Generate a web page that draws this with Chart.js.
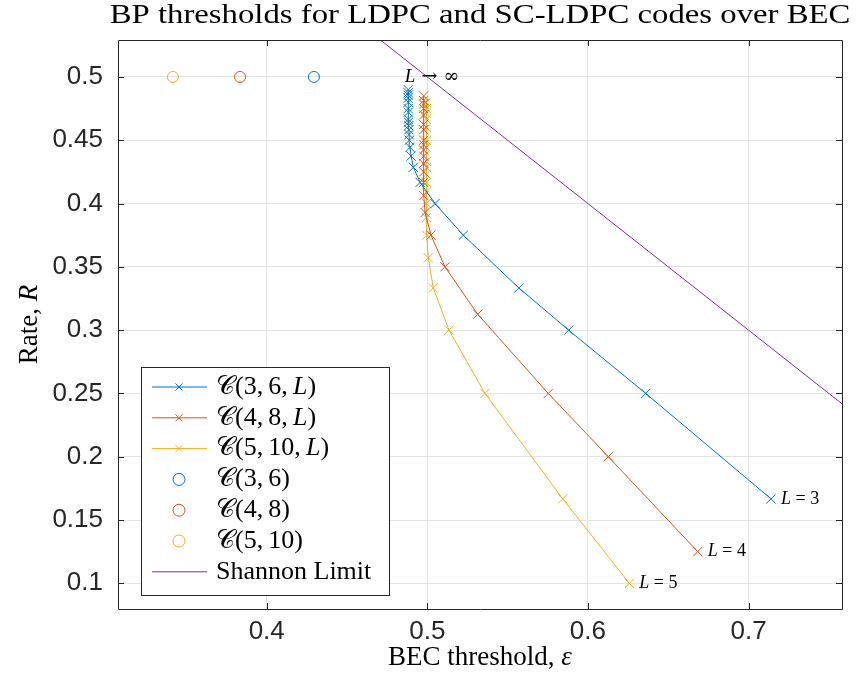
<!DOCTYPE html>
<html>
<head>
<meta charset="utf-8">
<script src="https://cdn.jsdelivr.net/npm/chart.js@4.4.1/dist/chart.umd.min.js"></script>
<style>
    html, body { margin: 0; padding: 0; background: #fff; }
    #wrap { width: 857px; height: 688px; }
</style>
</head>
<body>
<div id="wrap"><canvas id="bpChart" width="857" height="688"></canvas></div>
<script>
// SC-LDPC (l, r, L) BP thresholds, L growing left to right in each array
const eps36 = [0.714, 0.636, 0.588, 0.557, 0.5224, 0.5048, 0.4955, 0.4913, 0.4899, 0.4892, 0.4888, 0.4886, 0.4885, 0.4884, 0.4883, 0.4882, 0.4882, 0.4881, 0.4881, 0.4881, 0.4881, 0.4881, 0.4881];
const rate36 = [0.1667, 0.25, 0.3, 0.3333, 0.375, 0.4, 0.4167, 0.4286, 0.4375, 0.4444, 0.45, 0.4545, 0.4583, 0.4615, 0.4643, 0.4667, 0.4722, 0.475, 0.48, 0.4833, 0.4857, 0.4875, 0.49];

const eps48 = [0.6684, 0.6127, 0.5753, 0.5314, 0.511, 0.5023, 0.4986, 0.4978, 0.4977, 0.4977, 0.4977, 0.4977, 0.4977, 0.4977, 0.4977, 0.4977, 0.4977, 0.4977, 0.4977, 0.4977, 0.4977, 0.4977];
const rate48 = [0.125, 0.2, 0.25, 0.3125, 0.35, 0.375, 0.3929, 0.4063, 0.4167, 0.425, 0.4318, 0.4375, 0.4423, 0.4464, 0.45, 0.4583, 0.4625, 0.47, 0.475, 0.4786, 0.4813, 0.485];

const eps510 = [0.6258, 0.5843, 0.5359, 0.5135, 0.5037, 0.5006, 0.4996, 0.4994, 0.4994, 0.4994, 0.4994, 0.4994, 0.4994, 0.4994, 0.4994, 0.4994, 0.4994, 0.4994, 0.4994, 0.4994, 0.4994];
const rate510 = [0.1, 0.1667, 0.25, 0.3, 0.3333, 0.3571, 0.375, 0.3889, 0.4, 0.4091, 0.4167, 0.4231, 0.4286, 0.4333, 0.4444, 0.45, 0.46, 0.4667, 0.4714, 0.475, 0.48];

// uncoupled (l, r) ensembles
const ldpcEps = [0.4294, 0.3834, 0.3416];
const ldpcRate = [0.5, 0.5, 0.5];

const shannonEps = [0, 1];
const shannonRate = [1, 0];

const xTicks = [0.4, 0.5, 0.6, 0.7];
const yTicks = [0.1, 0.15, 0.2, 0.25, 0.3, 0.35, 0.4, 0.45, 0.5];

const endLabels = ['3', '4', '5'];

const colors = {
    blue: '#0072BD',
    red: '#D95319',
    yellow: '#EDB120',
    purple: '#7E2F8E',
    axis: '#262626',
    grid: '#e3e3e3',
};

const serif = '"Liberation Serif", "DejaVu Serif", serif';
const sans = '"Liberation Sans", Arial, sans-serif';
const thin = '\u2009';

function toPoints(xs, ys) {
    return xs.map((x, i) => ({ x, y: ys[i] }));
}

function scLine(label, xs, ys, color) {
    return {
        label,
        data: toPoints(xs, ys),
        showLine: true,
        borderColor: color,
        backgroundColor: color,
        borderWidth: 1,
        pointStyle: 'crossRot',
        pointRadius: 6.5,
        pointBorderWidth: 1,
    };
}

function ldpcPoint(label, i, color) {
    return {
        label,
        data: [{ x: ldpcEps[i], y: ldpcRate[i] }],
        showLine: false,
        borderColor: color,
        backgroundColor: 'rgba(0,0,0,0)',
        pointStyle: 'circle',
        pointRadius: 5.5,
        pointBorderWidth: 1,
    };
}

// text runs: { t, style }; stretch widens the whole string horizontally
function drawRuns(ctx, runs, x, y, size, align, stretch = 1) {
    let total = 0;
    runs.forEach(r => {
        ctx.font = `${r.style || ''} ${size}px ${r.family || serif}`;
        r.w = ctx.measureText(r.t).width;
        total += r.w;
    });
    ctx.save();
    ctx.translate(x, y);
    ctx.scale(stretch, 1);
    let cx = align === 'center' ? -total / 2 : 0;
    runs.forEach(r => {
        ctx.font = `${r.style || ''} ${size}px ${r.family || serif}`;
        ctx.fillText(r.t, cx, 0);
        cx += r.w;
    });
    ctx.restore();
}

function ensembleRuns(args, withL) {
    const runs = [{ t: '𝒞' }, { t: '(' + args + (withL ? ',' + thin : '') }];
    if (withL) runs.push({ t: 'L', style: 'italic' });
    runs.push({ t: ')' });
    return runs;
}

const decorations = {
    id: 'decorations',
    afterDatasetsDraw(chart) {
        const { ctx, chartArea: a, scales } = chart;
        const xs = scales.x;
        const ys = scales.y;
        ctx.save();
        ctx.fillStyle = '#000';
        ctx.textBaseline = 'middle';
        ctx.textAlign = 'left';

        // L = ... labels next to the shortest chains
        [[eps36, rate36], [eps48, rate48], [eps510, rate510]].forEach(([ex, ry], i) => {
            const px = xs.getPixelForValue(ex[0]) + 10;
            const py = ys.getPixelForValue(ry[0]);
            drawRuns(ctx, [{ t: 'L', style: 'italic' }, { t: ' = ' + endLabels[i] }], px, py, 18, 'left');
        });
        drawRuns(ctx, [
            { t: 'L', style: 'italic' },
            { t: ' →', family: '"DejaVu Serif", serif' },
            { t: ' ∞', family: '"DejaVu Serif", serif' },
        ], xs.getPixelForValue(0.486), ys.getPixelForValue(0.5), 19, 'left');

        // frame with inward ticks on all sides
        ctx.strokeStyle = colors.axis;
        ctx.lineWidth = 1;
        ctx.beginPath();
        ctx.rect(a.left + 0.5, a.top + 0.5, a.right - a.left, a.bottom - a.top);
        xTicks.forEach(v => {
            const p = Math.round(xs.getPixelForValue(v)) + 0.5;
            ctx.moveTo(p, a.bottom);
            ctx.lineTo(p, a.bottom - 6);
            ctx.moveTo(p, a.top);
            ctx.lineTo(p, a.top + 6);
        });
        yTicks.forEach(v => {
            const p = Math.round(ys.getPixelForValue(v)) + 0.5;
            ctx.moveTo(a.left, p);
            ctx.lineTo(a.left + 6, p);
            ctx.moveTo(a.right, p);
            ctx.lineTo(a.right - 6, p);
        });
        ctx.stroke();

        // legend box, bottom left inside the axes
        const lx = 141, ly = 367, lw = 248, lh = 228;
        ctx.fillStyle = '#fff';
        ctx.fillRect(lx, ly, lw, lh);
        ctx.strokeStyle = colors.axis;
        ctx.strokeRect(lx + 0.5, ly + 0.5, lw, lh);

        chart.data.datasets.forEach((ds, i) => {
            const ey = ly + 20 + i * 30.8;
            ctx.strokeStyle = ds.borderColor;
            ctx.lineWidth = 1;
            if (ds.showLine) {
                ctx.beginPath();
                ctx.moveTo(152, ey);
                ctx.lineTo(207, ey);
                ctx.stroke();
            }
            if (ds.pointRadius > 0) {
                ctx.fillStyle = 'rgba(0,0,0,0)';
                Chart.helpers.drawPoint(ctx, {
                    pointStyle: ds.pointStyle,
                    radius: ds.pointStyle === 'circle' ? 6 : 5,
                    borderWidth: 1,
                }, 179, ey);
            }
            ctx.fillStyle = '#000';
            drawRuns(ctx, ds.legendRuns, 216, ey, 26, 'left');
        });
        ctx.restore();
    },
    afterDraw(chart) {
        const { ctx, chartArea: a } = chart;
        const cx = (a.left + a.right) / 2;
        ctx.save();
        ctx.fillStyle = '#000';
        ctx.textBaseline = 'middle';
        ctx.textAlign = 'left';
        drawRuns(ctx, [{ t: 'BP thresholds for LDPC and SC-LDPC codes over BEC' }], cx, 16, 28, 'center', 1.17);
        drawRuns(ctx, [{ t: 'BEC threshold, ' }, { t: 'ε', style: 'italic' }], cx, 658, 27, 'center');
        ctx.translate(30, (a.top + a.bottom) / 2);
        ctx.rotate(-Math.PI / 2);
        drawRuns(ctx, [{ t: 'Rate, ' }, { t: 'R', style: 'italic' }], 0, 0, 27, 'center');
        ctx.restore();
    },
};

const datasets = [
    scLine('C(3,6,L)', eps36, rate36, colors.blue),
    scLine('C(4,8,L)', eps48, rate48, colors.red),
    scLine('C(5,10,L)', eps510, rate510, colors.yellow),
    ldpcPoint('C(3,6)', 0, colors.blue),
    ldpcPoint('C(4,8)', 1, colors.red),
    ldpcPoint('C(5,10)', 2, colors.yellow),
    {
        label: 'Shannon Limit',
        data: toPoints(shannonEps, shannonRate),
        showLine: true,
        borderColor: colors.purple,
        backgroundColor: colors.purple,
        borderWidth: 1,
        pointRadius: 0,
    },
];
datasets[0].legendRuns = ensembleRuns('3,' + thin + '6', true);
datasets[1].legendRuns = ensembleRuns('4,' + thin + '8', true);
datasets[2].legendRuns = ensembleRuns('5,' + thin + '10', true);
datasets[3].legendRuns = ensembleRuns('3,' + thin + '6', false);
datasets[4].legendRuns = ensembleRuns('4,' + thin + '8', false);
datasets[5].legendRuns = ensembleRuns('5,' + thin + '10', false);
datasets[6].legendRuns = [{ t: 'Shannon Limit' }];

new Chart(document.getElementById('bpChart'), {
    type: 'scatter',
    data: { datasets },
    options: {
        responsive: false,
        animation: false,
        events: [],
        layout: { padding: { left: 0, right: 15, top: 40, bottom: 0 } },
        scales: {
            x: {
                type: 'linear',
                min: 0.3074,
                max: 0.7582,
                afterBuildTicks(scale) {
                    scale.ticks = xTicks.map(value => ({ value }));
                },
                afterFit(scale) {
                    scale.height = 79;
                },
                ticks: {
                    font: { family: sans, size: 26 },
                    color: colors.axis,
                    padding: 7,
                    maxRotation: 0,
                    callback: v => String(v),
                },
                grid: { color: colors.grid, drawTicks: false },
                border: { display: false },
            },
            y: {
                type: 'linear',
                min: 0.0797,
                max: 0.5292,
                afterBuildTicks(scale) {
                    scale.ticks = yTicks.map(value => ({ value }));
                },
                afterFit(scale) {
                    scale.width = 118;
                },
                ticks: {
                    font: { family: sans, size: 26 },
                    color: colors.axis,
                    padding: 15,
                    callback: v => String(v),
                },
                grid: { color: colors.grid, drawTicks: false },
                border: { display: false },
            },
        },
        plugins: {
            legend: { display: false },
            title: { display: false },
            tooltip: { enabled: false },
        },
    },
    plugins: [decorations],
});
</script>
</body>
</html>
